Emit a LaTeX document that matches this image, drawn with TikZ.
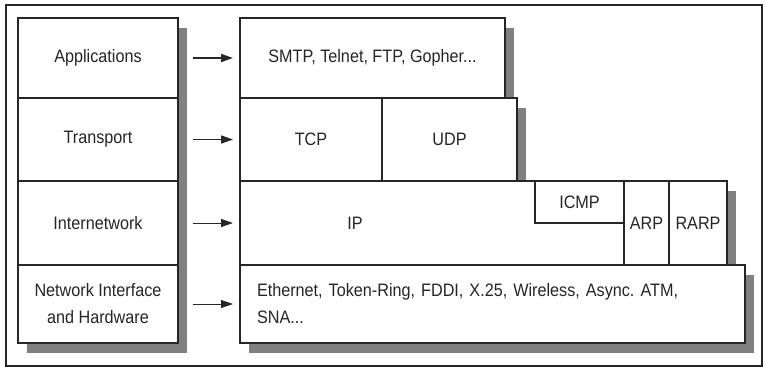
\documentclass[tikz,border=0pt]{standalone}
\usepackage{xcolor}
\usepackage{fontspec}
\setmainfont{Liberation Sans}[FakeStretch=0.9]
\usepackage{tikz}
\usetikzlibrary{shadows,arrows.meta}

\definecolor{linecol}{gray}{0.15}
\definecolor{shadecol}{gray}{0.5}
\newcommand{\layerfont}{\fontsize{18}{27}\selectfont\frenchspacing}

\begin{document}
\begin{tikzpicture}[x=1pt, y=-1pt,
    layer/.style={draw=linecol, fill=white, line width=1.1pt, anchor=north west,
                  inner sep=0pt, outer sep=0pt, align=center, text=linecol, font=\layerfont},
    shade/.style={drop shadow={shadow xshift=9pt, shadow yshift=-10pt,
                  fill=shadecol, opacity=1}},
    arr/.style={-{Triangle[length=12pt,width=8pt]}, draw=linecol,
                shorten <=15pt, shorten >=7pt}
  ]
    \useasboundingbox (0,0) rectangle (765,369);
    \draw[linecol, line width=1.3pt] (6,5) rectangle (762,366);

    \node[layer, shade, minimum width=160pt, minimum height=80pt] (app)   at (18,18)  {Applications};
    \node[layer, shade, minimum width=160pt, minimum height=83pt] (trans) at (18,98)  {Transport};
    \node[layer, shade, minimum width=160pt, minimum height=84pt] (inet)  at (18,181) {Internetwork};
    \node[layer, shade, minimum width=160pt, minimum height=78pt] (nif)   at (18,265) {Network Interface\\and Hardware};

    \node[layer, shade, minimum width=265pt, minimum height=80pt] (smtp) at (240,18)  {SMTP, Telnet, FTP, Gopher...};
    \node[layer, shade, minimum width=142pt, minimum height=83pt] (tcp)  at (240,98)  {TCP};
    \node[layer, shade, minimum width=135pt, minimum height=83pt] (udp)  at (382,98)  {UDP};
    \node[layer, shade, minimum width=384pt, minimum height=84pt,
          label={[xshift=-77pt, text=linecol, font=\layerfont]center:IP}] (ip) at (240,181) {};
    \node[layer, minimum width=89pt, minimum height=42pt] (icmp) at (535,181) {ICMP};
    \node[layer, shade, minimum width=45pt, minimum height=84pt] (arp)  at (624,181) {ARP};
    \node[layer, shade, minimum width=58pt, minimum height=84pt] (rarp) at (669,181) {RARP};
    \node[layer, shade, minimum width=505pt, minimum height=78pt, text width=471pt, align=left] (net) at (240,265)
      {Ethernet, Token-Ring, FDDI, X.25, Wireless, Async. ATM,\\SNA...};

    \draw[arr, line width=1.6pt] (app)   -- (smtp);
    \draw[arr, line width=1.6pt] (trans) -- (tcp);
    \draw[arr, line width=0.8pt] (inet)  -- (ip);
    \draw[arr, line width=0.8pt] (nif)   -- (net);
  \end{tikzpicture}
\end{document}
